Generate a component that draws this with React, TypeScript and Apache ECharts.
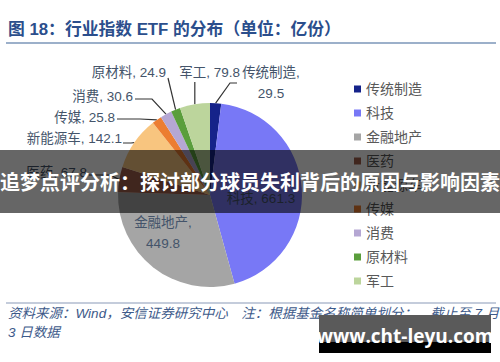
import { useEffect, useRef } from 'react';
import * as echarts from 'echarts';

const categories = ['传统制造', '科技', '金融地产', '医药', '新能源车', '传媒', '消费', '原材料', '军工'];
const values = [29.5, 661.3, 449.8, 67.8, 142.1, 25.8, 30.6, 24.9, 79.8];
const colors = ['#15238a', '#7878f6', '#a5a5a5', '#a0604c', '#f8c57f', '#ec7d31', '#b5a7d3', '#5a9e3c', '#bcd59c'];
const twoLineLabels = ['传统制造', '金融地产'];
const insideLabels = ['科技', '金融地产'];
const titleText = '图 18：行业指数 ETF 的分布（单位：亿份）';
const sourceLine1 = '资料来源：Wind，安信证券研究中心　注：根据基金名称简单划分；　截止至 7 月';
const sourceLine2 = '3 日数据';
const bannerText = '追梦点评分析：探讨部分球员失利背后的原因与影响因素';
const watermarkText = 'www.cht-leyu.com';

// label placement (layout only)
const labelPlaces: any[] = [
  { x: 271, y: 83, align: 'center', line: [[230, 83], [237, 83]] },
  { x: 261, y: 198, align: 'center' },
  { x: 163, y: 233, align: 'center' },
  { x: 87, y: 172, align: 'right', line: [[110, 175], [89, 175]] },
  { x: 122, y: 138, align: 'right', line: [[131, 143], [123, 143]] },
  { x: 115, y: 117, align: 'right', line: [[140, 119], [117, 119]] },
  { x: 133, y: 96, align: 'right', line: [[152, 99], [135, 99]] },
  { x: 166, y: 72, align: 'right', line: [[168, 78], [168, 78]] },
  { x: 240, y: 72, align: 'right', line: 'vertical' },
];

const FONT = "'Liberation Sans', 'Noto Sans CJK SC', sans-serif";

export default function App() {
  const ref = useRef<HTMLDivElement>(null);
  useEffect(() => {
    if (!ref.current) return;
    const chart = echarts.init(ref.current, undefined, { renderer: 'svg' });
    const data = categories.map((name, i) => {
      const inside = insideLabels.includes(name);
      return {
        name,
        value: values[i],
        itemStyle: { color: colors[i] },
        label: {
          position: inside ? 'inside' : 'outside',
          formatter: twoLineLabels.includes(name) ? '{b},\n{c}' : '{b}, {c}',
        },
        labelLine: { show: !inside },
      };
    });
    chart.setOption({
      animation: false,
      backgroundColor: '#ffffff',
      legend: {
        orient: 'vertical',
        left: 349,
        top: 77,
        itemWidth: 7,
        itemHeight: 7,
        itemGap: 10,
        icon: 'rect',
        data: categories,
        textStyle: { fontSize: 14, color: '#595959', lineHeight: 14, fontFamily: FONT },
      },
      series: [
        {
          type: 'pie',
          center: [210, 195],
          radius: 92,
          startAngle: 90,
          clockwise: true,
          data,
          label: {
            show: true,
            fontSize: 13.5,
            lineHeight: 21,
            color: '#44546a',
            fontFamily: FONT,
            overflow: 'none',
            width: 200,
          },
          labelLine: {
            show: true,
            lineStyle: { color: '#333333', width: 1.2 },
          },
          labelLayout: (params: any) => {
            const p = labelPlaces[params.dataIndex];
            const res: any = { x: p.x, y: p.y, align: p.align, verticalAlign: 'middle', width: 200 };
            if (p.line && params.labelLinePoints) {
              const s = params.labelLinePoints[0];
              if (p.line === 'vertical') {
                res.labelLinePoints = [s, [s[0], 90], [s[0], 82]];
              } else {
                res.labelLinePoints = [s, p.line[0], p.line[1]];
              }
            }
            return res;
          },
        },
      ],
      graphic: [
        {
          type: 'text',
          left: 8,
          top: 21,
          style: { text: titleText, fontSize: 16.8, fontWeight: 'bold', fill: '#2b4e8c', fontFamily: FONT },
        },
        { type: 'line', shape: { x1: 6, y1: 43, x2: 496, y2: 43 }, style: { stroke: '#7b96b8', lineWidth: 1.5 } },
        { type: 'line', shape: { x1: 6, y1: 303, x2: 496, y2: 303 }, style: { stroke: '#8a9ab8', lineWidth: 1.2 } },
        {
          type: 'text',
          left: 8,
          top: 307,
          style: { text: sourceLine1, fontSize: 13.5, fontStyle: 'italic', fill: '#3d5a8a', fontFamily: FONT },
        },
        {
          type: 'text',
          left: 8,
          top: 326,
          style: { text: sourceLine2, fontSize: 13.5, fontStyle: 'italic', fill: '#3d5a8a', fontFamily: FONT },
        },
        { type: 'rect', z: 100, shape: { x: 0, y: 150, width: 500, height: 63 }, style: { fill: 'rgba(0,0,0,0.6)' } },
        {
          type: 'text',
          z: 101,
          x: 250,
          y: 181,
          style: {
            text: bannerText,
            fontSize: 20,
            fontWeight: 'bold',
            fill: '#ffffff',
            align: 'center',
            verticalAlign: 'middle',
            fontFamily: "'Noto Sans CJK SC', sans-serif",
          },
        },
        { type: 'rect', z: 100, shape: { x: 319, y: 315, width: 172, height: 27 }, style: { fill: '#5a5a5a' } },
        { type: 'rect', z: 100, shape: { x: 319, y: 342, width: 172, height: 11 }, style: { fill: '#000000' } },
        {
          type: 'text',
          z: 101,
          x: 405,
          y: 336,
          style: {
            text: watermarkText,
            fontSize: 19,
            fontWeight: 'bold',
            fill: '#ffffff',
            align: 'center',
            verticalAlign: 'middle',
            fontFamily: "'Open Sans', 'DejaVu Sans', sans-serif",
          },
        },
      ],
    });
    return () => chart.dispose();
  }, []);
  return (
    <div
      ref={ref}
      style={{ position: 'absolute', left: 0, top: 0, width: 500, height: 362, background: '#fff' }}
    />
  );
}
